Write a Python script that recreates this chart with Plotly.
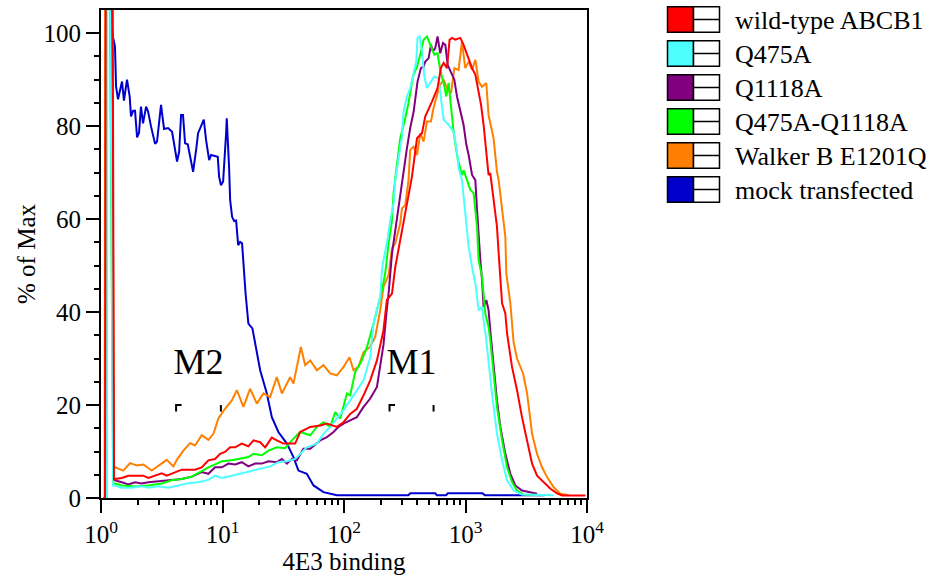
import numpy as np
import plotly.graph_objects as go

# ---------------- data (x stored as log10 of 4E3 binding intensity, y = % of Max) ----------------
series_names = ["wild-type ABCB1", "Q475A", "Q1118A", "Q475A-Q1118A", "Walker B E1201Q", "mock transfected"]
series_colors = ["#ff0000", "#4dffff", "#800080", "#00ff00", "#ff8000", "#0000cc"]

wt_logx = [0.020, 0.033, 0.041, 0.092, 0.107, 0.115, 0.171, 0.225, 0.280, 0.348, 0.390, 0.445, 0.500, 0.541, 0.610, 0.665,
           0.774, 0.829, 0.884, 0.939, 0.980, 1.021, 1.063, 1.104, 1.159, 1.213, 1.255, 1.310, 1.351, 1.406, 1.447, 1.502,
           1.543, 1.598, 1.639, 1.722, 1.804, 1.859, 1.942, 1.996, 2.051, 2.106, 2.161, 2.216, 2.271, 2.325, 2.353, 2.395,
           2.422, 2.463, 2.518, 2.559, 2.601, 2.642, 2.669, 2.696, 2.724, 2.770, 2.798, 2.820, 2.848, 2.869, 2.889, 2.916,
           2.957, 2.984, 3.012, 3.054, 3.081, 3.100, 3.128, 3.149, 3.171, 3.190, 3.204, 3.231, 3.259, 3.273, 3.287, 3.301,
           3.328, 3.342, 3.383, 3.424, 3.465, 3.507, 3.548, 3.589, 3.643, 3.699, 3.753, 3.795, 3.987]
wt_y = [0, 0, 150, 150, 3.8, 4.1, 4.3, 4.8, 4.8, 4.8, 4.3, 4.8, 5.3, 4.8, 5.6, 6.1,
        6.1, 6.6, 8.1, 8.4, 9.5, 9.9, 10.9, 10.9, 11.7, 11.1, 12.4, 12.0, 10.9, 13.0, 12.4, 11.7,
        11.7, 11.7, 14.2, 15.3, 15.6, 16.0, 15.3, 16.3, 18.1, 19.2, 22.1, 25.3, 29.6, 36.1, 42.6, 44.0,
        49.7, 55.5, 63.4, 69.1, 77.4, 78.5, 82.1, 83.5, 85.3, 88.2, 92.6, 93.6, 92.5, 98.6, 99.0, 98.6,
        99.0, 97.5, 95.4, 92.5, 91.1, 88.5, 84.6, 80.3, 74.5, 69.5, 69.9, 64.8, 58.4, 52.6, 47.6, 41.9,
        39.7, 35.4, 28.2, 23.2, 17.4, 12.4, 7.4, 4.8, 3.4, 2.0, 1.0, 0.55, 0.55]

q475_logx = [0.040, 0.049, 0.053, 0.066, 0.100, 0.115, 0.171, 0.253, 0.335, 0.390, 0.472, 0.554, 0.637, 0.719, 0.801, 0.884,
             0.939, 0.994, 1.077, 1.159, 1.241, 1.324, 1.392, 1.460, 1.530, 1.598, 1.694, 1.777, 1.831, 1.886, 1.942, 1.996,
             2.051, 2.106, 2.161, 2.216, 2.243, 2.298, 2.312, 2.325, 2.353, 2.381, 2.408, 2.422, 2.449, 2.477, 2.490, 2.518,
             2.545, 2.573, 2.595, 2.605, 2.622, 2.642, 2.661, 2.683, 2.710, 2.743, 2.778, 2.792, 2.806, 2.820, 2.861, 2.902,
             2.930, 2.943, 2.971, 2.998, 3.026, 3.054, 3.081, 3.108, 3.136, 3.149, 3.171, 3.218, 3.259, 3.301, 3.342, 3.396,
             3.465, 3.726]
q475_y = [0, 0, 150, 150, 2.7, 2.7, 2.2, 2.2, 2.5, 2.2, 2.5, 2.2, 2.7, 3.2, 3.4, 3.9,
          4.8, 4.3, 4.8, 5.3, 5.8, 6.3, 6.8, 7.7, 7.9, 8.4, 10.9, 11.7, 13.8, 15.3, 17.1, 18.9,
          21.0, 23.2, 25.3, 30.3, 37.5, 43.3, 49.0, 51.2, 54.8, 59.8, 63.4, 68.4, 72.7, 77.8, 83.1, 86.4,
          88.2, 91.1, 93.9, 99.0, 99.3, 96.1, 90.7, 88.2, 89.3, 90.7, 90.3, 87.5, 83.9, 81.4, 80.3, 78.8,
          74.5, 71.0, 68.4, 61.3, 54.0, 49.7, 46.2, 40.4, 41.1, 38.3, 33.9, 22.5, 13.8, 8.1, 3.8, 1.6,
          0.75, 0.6]

q1118_logx = [0.030, 0.040, 0.046, 0.080, 0.104, 0.115, 0.171, 0.225, 0.280, 0.335, 0.390, 0.472, 0.554, 0.665, 0.747, 0.829,
              0.884, 0.939, 0.994, 1.049, 1.104, 1.159, 1.213, 1.269, 1.324, 1.378, 1.447, 1.489, 1.530, 1.571, 1.612, 1.666,
              1.722, 1.804, 1.859, 1.914, 1.955, 1.996, 2.051, 2.106, 2.161, 2.216, 2.271, 2.325, 2.350, 2.367, 2.395, 2.422,
              2.449, 2.477, 2.504, 2.518, 2.545, 2.573, 2.605, 2.633, 2.655, 2.669, 2.696, 2.716, 2.732, 2.751, 2.770, 2.792,
              2.815, 2.834, 2.853, 2.881, 2.908, 2.930, 2.957, 2.984, 3.007, 3.026, 3.054, 3.081, 3.095, 3.108, 3.122, 3.136,
              3.149, 3.171, 3.190, 3.204, 3.231, 3.259, 3.287, 3.328, 3.369, 3.410, 3.465, 3.534, 3.589]
q1118_y = [0, 0, 150, 150, 3.8, 3.8, 3.4, 2.9, 3.4, 3.1, 3.4, 3.6, 3.8, 4.1, 4.6, 5.6,
           5.2, 6.6, 6.6, 7.4, 7.2, 7.7, 6.8, 7.4, 7.4, 7.9, 7.7, 8.4, 7.4, 8.4, 8.1, 10.6,
           10.6, 12.4, 13.1, 14.2, 15.3, 16.0, 16.7, 17.4, 19.6, 21.4, 23.9, 33.0, 40.0, 44.0, 52.6, 57.7,
           63.4, 68.4, 72.7, 75.3, 79.6, 83.1, 89.6, 92.5, 92.8, 93.9, 94.6, 97.5, 96.1, 96.8, 99.3, 95.7,
           97.9, 97.5, 93.2, 91.4, 90.0, 86.4, 83.5, 80.3, 76.0, 73.8, 69.5, 68.4, 62.0, 56.2, 51.2, 46.9,
           41.1, 42.6, 40.4, 36.0, 28.2, 21.0, 15.3, 9.5, 5.2, 2.7, 1.6, 1.25, 0.9]

dbl_logx = [0.038, 0.046, 0.050, 0.062, 0.100, 0.115, 0.171, 0.280, 0.390, 0.500, 0.582, 0.665, 0.747, 0.829, 0.884, 0.953,
            0.994, 1.077, 1.131, 1.213, 1.255, 1.324, 1.378, 1.447, 1.516, 1.571, 1.639, 1.722, 1.777, 1.831, 1.886, 1.928,
            1.969, 2.024, 2.051, 2.092, 2.147, 2.189, 2.243, 2.298, 2.312, 2.339, 2.367, 2.395, 2.408, 2.430, 2.463, 2.504,
            2.531, 2.568, 2.601, 2.628, 2.655, 2.683, 2.710, 2.743, 2.770, 2.792, 2.820, 2.842, 2.861, 2.881, 2.902, 2.935,
            2.971, 2.985, 3.012, 3.040, 3.067, 3.095, 3.108, 3.136, 3.163, 3.190, 3.204, 3.231, 3.259, 3.301, 3.342, 3.383,
            3.424, 3.479, 3.620]
dbl_y = [0, 0, 150, 150, 3.1, 3.1, 2.7, 2.5, 2.7, 3.1, 3.8, 4.1, 4.6, 5.8, 6.6, 7.4,
         7.9, 8.1, 8.4, 8.8, 9.5, 9.2, 10.2, 10.9, 10.7, 12.4, 14.2, 13.5, 15.3, 16.3, 15.3, 18.5,
         17.1, 22.5, 22.1, 27.1, 29.6, 32.5, 37.5, 43.3, 44.7, 48.3, 54.8, 59.8, 65.6, 70.5, 77.4, 81.7,
         85.0, 90.7, 92.8, 95.4, 98.6, 99.3, 97.5, 95.4, 95.7, 92.1, 89.3, 86.4, 89.3, 84.6, 78.8, 73.1,
         69.5, 70.5, 68.4, 66.3, 65.6, 58.4, 51.2, 47.6, 39.7, 36.8, 33.9, 26.8, 19.6, 12.4, 6.6, 3.4,
         1.6, 0.75, 0.6]

walker_logx = [0.020, 0.030, 0.036, 0.085, 0.107, 0.115, 0.184, 0.239, 0.294, 0.348, 0.418, 0.472, 0.541, 0.596, 0.624, 0.678,
               0.733, 0.774, 0.829, 0.884, 0.925, 0.966, 1.021, 1.077, 1.118, 1.172, 1.227, 1.283, 1.337, 1.392, 1.447, 1.489,
               1.557, 1.584, 1.645, 1.680, 1.722, 1.777, 1.831, 1.886, 1.942, 1.996, 2.045, 2.078, 2.119, 2.161, 2.216, 2.257,
               2.298, 2.325, 2.367, 2.395, 2.422, 2.463, 2.477, 2.504, 2.531, 2.545, 2.573, 2.601, 2.628, 2.655, 2.683, 2.716,
               2.737, 2.770, 2.792, 2.820, 2.853, 2.881, 2.908, 2.943, 2.971, 2.998, 3.026, 3.054, 3.081, 3.108, 3.136, 3.171,
               3.190, 3.231, 3.259, 3.273, 3.301, 3.328, 3.336, 3.355, 3.369, 3.396, 3.424, 3.474, 3.507, 3.548, 3.589, 3.630,
               3.671, 3.726, 3.781, 3.850]
walker_y = [0, 0, 150, 150, 6.6, 6.6, 5.9, 7.5, 7.0, 7.2, 5.9, 7.0, 8.2, 6.8, 8.2, 10.2,
            11.8, 11.3, 13.5, 12.5, 13.8, 17.1, 19.2, 21.0, 23.2, 19.6, 23.5, 20.3, 22.5, 21.7, 26.0, 22.5,
            26.0, 24.6, 32.5, 28.6, 29.6, 27.5, 28.6, 26.8, 26.4, 28.2, 30.3, 27.5, 28.2, 31.4, 32.5, 34.7,
            40.4, 45.5, 48.0, 53.7, 54.8, 59.1, 62.3, 63.0, 68.4, 74.9, 75.6, 73.8, 78.5, 76.7, 81.0, 81.0,
            83.9, 87.1, 88.9, 90.0, 87.8, 87.1, 92.5, 92.1, 98.2, 92.5, 93.9, 92.1, 94.3, 89.6, 88.5, 89.3,
            82.4, 77.4, 70.2, 68.4, 62.7, 56.2, 48.3, 44.0, 41.9, 33.5, 30.0, 26.8, 22.5, 13.8, 9.5, 6.6,
            4.5, 2.3, 0.9, 0.6]

mock_logx = [0.035, 0.045, 0.082, 0.099, 0.115, 0.124, 0.140, 0.173, 0.189, 0.214, 0.236, 0.247, 0.264, 0.280, 0.297, 0.313,
             0.329, 0.346, 0.371, 0.387, 0.412, 0.445, 0.461, 0.494, 0.519, 0.552, 0.585, 0.626, 0.643, 0.659, 0.675, 0.692,
             0.714, 0.741, 0.758, 0.783, 0.799, 0.846, 0.865, 0.890, 0.906, 0.961, 0.972, 0.988, 1.005, 1.030, 1.035, 1.054,
             1.063, 1.079, 1.096, 1.112, 1.129, 1.145, 1.161, 1.190, 1.213, 1.246, 1.310, 1.365, 1.406, 1.460, 1.530, 1.584,
             1.625, 1.694, 1.749, 1.831, 1.942, 2.530, 2.545, 2.750, 2.765, 2.840, 2.855, 3.140, 3.160, 3.650]
mock_y = [0, 130, 103.0, 99.1, 97.2, 88.5, 85.8, 89.6, 85.5, 90.0, 86.4, 82.1, 83.3, 83.3, 77.6, 78.6,
          84.2, 80.6, 84.2, 83.2, 79.9, 76.2, 76.7, 84.6, 79.4, 79.6, 78.8, 72.4, 74.5, 82.4, 82.4, 76.3,
          76.1, 72.2, 70.2, 74.9, 78.5, 81.4, 77.0, 72.7, 73.8, 73.4, 69.1, 67.3, 68.1, 78.6, 81.7, 71.3,
          64.1, 60.5, 59.6, 59.7, 54.4, 55.1, 54.8, 44.0, 37.5, 36.5, 27.5, 22.5, 17.4, 14.2, 11.7, 8.8,
          5.9, 5.2, 2.7, 1.25, 0.6, 0.6, 1.0, 1.0, 0.6, 0.6, 1.0, 1.0, 0.6, 0.6]

# gates (markers)
gate_names = ["M2", "M1"]
gate_lo = [4.15, 237.0]
gate_hi = [9.7, 546.0]
gate_level = 20.0

x_tick_vals = [1, 10, 100, 1000, 10000]
x_tick_text = ["10<sup>0</sup>", "10<sup>1</sup>", "10<sup>2</sup>", "10<sup>3</sup>", "10<sup>4</sup>"]
y_tick_vals = [0, 20, 40, 60, 80, 100]

# ---------------- figure ----------------
FONT = "Liberation Serif, Times New Roman, serif"
W, H = 948, 586
L_M, R_M, T_M, B_M = 101, 361, 10, 88
PW, PH = W - L_M - R_M, H - T_M - B_M

fig = go.Figure()

all_series = {
    "wild-type ABCB1": (wt_logx, wt_y),
    "Q475A": (q475_logx, q475_y),
    "Q1118A": (q1118_logx, q1118_y),
    "Q475A-Q1118A": (dbl_logx, dbl_y),
    "Walker B E1201Q": (walker_logx, walker_y),
    "mock transfected": (mock_logx, mock_y),
}
color_of = dict(zip(series_names, series_colors))
draw_order = ["mock transfected", "Walker B E1201Q", "Q1118A", "Q475A-Q1118A", "Q475A", "wild-type ABCB1"]
for name in draw_order:
    lx, yv = all_series[name]
    fig.add_trace(go.Scatter(
        x=np.power(10.0, np.array(lx)), y=yv, mode="lines", name=name,
        line=dict(color=color_of[name], width=2), showlegend=False, hoverinfo="skip"))

# gate brackets
hook = 10 ** 0.045
bx, by = [], []
for lo, hi in zip(gate_lo, gate_hi):
    bx += [lo * hook, lo, lo, None, hi, hi, None]
    by += [gate_level, gate_level, gate_level - 1.4, None, gate_level, gate_level - 1.4, None]
fig.add_trace(go.Scatter(x=bx, y=by, mode="lines", line=dict(color="black", width=2),
                         showlegend=False, hoverinfo="skip"))
fig.add_trace(go.Scatter(
    x=[np.sqrt(lo * hi) for lo, hi in zip(gate_lo, gate_hi)], y=[gate_level + 8.6] * len(gate_names),
    mode="text", text=gate_names, textfont=dict(family=FONT, size=36, color="black"),
    textposition="middle center", showlegend=False, hoverinfo="skip"))

# FlowJo-style legend drawn in pixel positions
def px_x(p):
    return (p - L_M) / PW

def px_y(p):
    return (H - B_M - p) / PH

shapes = []
annotations = []
for i, (name, col) in enumerate(zip(series_names, series_colors)):
    top = 6.7 + 34 * i
    bot = top + 25.6
    mid = (top + bot) / 2
    shapes.append(dict(type="rect", xref="paper", yref="paper", x0=px_x(667.5), x1=px_x(693.5),
                       y0=px_y(bot), y1=px_y(top), fillcolor=col, line=dict(color="black", width=1.5)))
    shapes.append(dict(type="rect", xref="paper", yref="paper", x0=px_x(693.5), x1=px_x(719.5),
                       y0=px_y(bot), y1=px_y(top), fillcolor="white", line=dict(color="black", width=1.5)))
    shapes.append(dict(type="line", xref="paper", yref="paper", x0=px_x(693.5), x1=px_x(719.5),
                       y0=px_y(mid), y1=px_y(mid), line=dict(color="black", width=1.5)))
    annotations.append(dict(xref="paper", yref="paper", x=px_x(733), y=px_y(mid + 1), text=name,
                            showarrow=False, xanchor="left", yanchor="middle",
                            font=dict(family=FONT, size=26, color="black")))

fig.update_layout(
    width=W, height=H,
    margin=dict(l=L_M, r=R_M, t=T_M, b=B_M, autoexpand=False),
    paper_bgcolor="white", plot_bgcolor="white",
    shapes=shapes, annotations=annotations,
    font=dict(family=FONT, size=25, color="black"),
    xaxis=dict(
        type="log", range=[0, 4], tickmode="array", tickvals=x_tick_vals, ticktext=x_tick_text,
        ticks="outside", ticklen=13, tickwidth=2, tickcolor="black",
        showline=True, linewidth=2, linecolor="black", mirror=True,
        showgrid=False, zeroline=False,
        tickfont=dict(family=FONT, size=25, color="black"),
        minor=dict(tickmode="array",
                   tickvals=[m * 10 ** d for d in range(4) for m in range(2, 10)],
                   ticks="outside", ticklen=5, tickwidth=2, tickcolor="black", showgrid=False),
        title=dict(text="4E3 binding", font=dict(family=FONT, size=25, color="black"), standoff=4),
        automargin=False,
    ),
    yaxis=dict(
        range=[0, 105], tickmode="array", tickvals=y_tick_vals,
        ticks="outside", ticklen=13, tickwidth=2, tickcolor="black",
        showline=True, linewidth=2, linecolor="black", mirror=True,
        showgrid=False, zeroline=False,
        tickfont=dict(family=FONT, size=25, color="black"),
        minor=dict(tickmode="array", tickvals=[v for v in range(5, 100, 5) if v % 20 != 0],
                   ticks="outside", ticklen=5, tickwidth=2, tickcolor="black", showgrid=False),
        title=dict(text="% of Max", font=dict(family=FONT, size=25, color="black"), standoff=1),
        automargin=False,
    ),
)

fig.write_html("out.html")
